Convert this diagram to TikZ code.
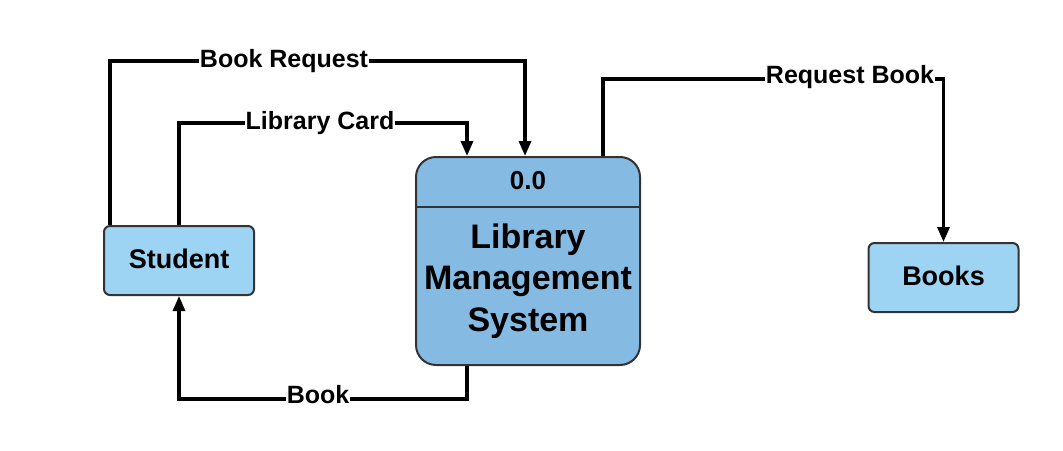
\documentclass[tikz,border=0pt]{standalone}
\usepackage{fontspec}
\setmainfont{Liberation Sans}
\usetikzlibrary{arrows.meta}
\definecolor{procfill}{HTML}{85BAE3}
\definecolor{entfill}{HTML}{9DD3F3}
\definecolor{edgegray}{HTML}{333333}
\begin{document}
\begin{tikzpicture}[x=1pt,y=-1pt,
  entity/.style={draw=edgegray, line width=2pt, fill=entfill, rounded corners=6pt,
    minimum width=150pt, minimum height=69pt, inner sep=0pt,
    font=\bfseries\fontsize{27}{32}\selectfont},
  process/.style={draw=edgegray, line width=2pt, fill=procfill, rounded corners=20pt,
    minimum width=224pt, minimum height=208pt, inner sep=0pt},
  flow/.style={line width=3.2pt, -{Triangle[length=15pt,width=12pt]}},
  lbl/.style={fill=white, inner sep=1pt, font=\bfseries\fontsize{25}{30}\selectfont}]
\useasboundingbox (0,0) rectangle (1063,450);
\node[entity] (stu) at (179,260.5) {\raisebox{3pt}{Student}};
\node[entity] (books) at (943.5,277.5) {\raisebox{3pt}{Books}};
\node[process] (lms) at (528,261) {};
\draw[draw=edgegray, line width=2pt] (lms.west |- 0,207) -- (lms.east |- 0,207);
\node[font=\bfseries\fontsize{26}{30}\selectfont] (lmsid) at (528,181) {0.0};
\node[align=center, font=\bfseries\fontsize{34}{41.5}\selectfont] (lmsname) at (528,281)
  {Library\\Management\\System};
\draw[flow] ([xshift=-69pt]stu.north) -- ++(0,-164) -| ([xshift=-3pt]lms.north);
\draw[flow] (stu.north) -- ++(0,-102) -| ([xshift=-61pt]lms.north);
\draw[flow] ([xshift=75pt]lms.north) -- ++(0,-77) -| (books.north);
\draw[flow] ([xshift=-61pt]lms.south) -- ++(0,33) -| (stu.south);
\node[lbl] (lbr) at (284,61) {Book Request};
\node[lbl] (llc) at (320,123) {Library Card};
\node[lbl] (lrb) at (850,77) {Request Book};
\node[lbl] (lbk) at (318,395) {Book};
\end{tikzpicture}
\end{document}
